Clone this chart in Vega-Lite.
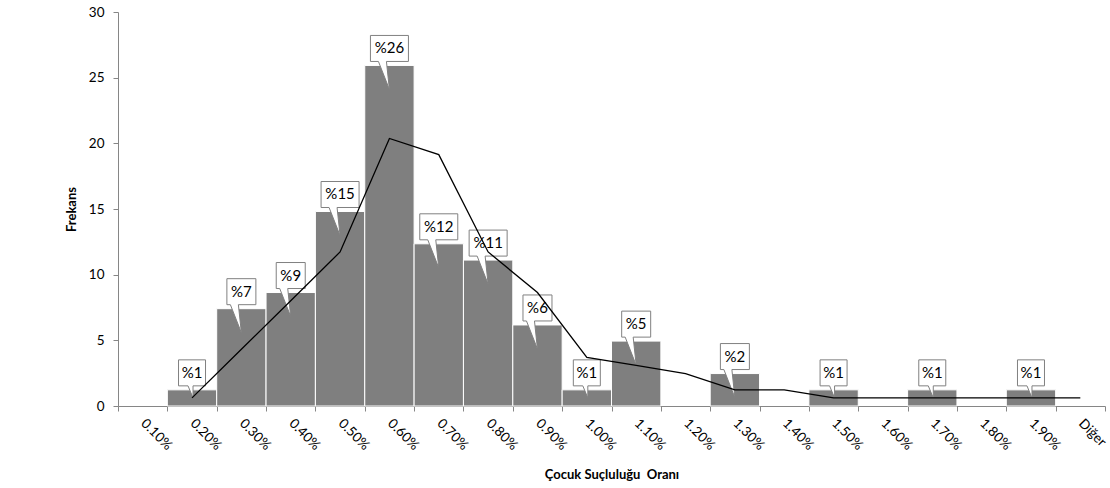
{
  "$schema": "https://vega.github.io/schema/vega-lite/v6.json",
  "width": 987,
  "height": 394,
  "autosize": {"type": "none"},
  "padding": {"left": 118, "top": 12, "right": 5, "bottom": 82},
  "background": "white",
  "config": {
    "view": {"stroke": null},
    "font": "Lato",
    "axis": {
      "grid": false,
      "domainColor": "#868686",
      "tickColor": "#868686",
      "tickSize": 5,
      "labelColor": "#000000",
      "titleColor": "#000000",
      "labelFontSize": 13.5,
      "titleFontSize": 13,
      "titleFontWeight": "bold",
      "labelFont": "Lato",
      "titleFont": "Lato"
    }
  },
  "data": {
    "values": [
      {"cat": "0.10%", "v": 0, "lab": null, "ma": null},
      {"cat": "0.20%", "v": 1.23, "lab": "%1", "ma": 0.62},
      {"cat": "0.30%", "v": 7.41, "lab": "%7", "ma": 4.32},
      {"cat": "0.40%", "v": 8.64, "lab": "%9", "ma": 8.02},
      {"cat": "0.50%", "v": 14.81, "lab": "%15", "ma": 11.73},
      {"cat": "0.60%", "v": 25.93, "lab": "%26", "ma": 20.37},
      {"cat": "0.70%", "v": 12.35, "lab": "%12", "ma": 19.14},
      {"cat": "0.80%", "v": 11.11, "lab": "%11", "ma": 11.73},
      {"cat": "0.90%", "v": 6.17, "lab": "%6", "ma": 8.64},
      {"cat": "1.00%", "v": 1.23, "lab": "%1", "ma": 3.70},
      {"cat": "1.10%", "v": 4.94, "lab": "%5", "ma": 3.09},
      {"cat": "1.20%", "v": 0, "lab": null, "ma": 2.47},
      {"cat": "1.30%", "v": 2.47, "lab": "%2", "ma": 1.23},
      {"cat": "1.40%", "v": 0, "lab": null, "ma": 1.23},
      {"cat": "1.50%", "v": 1.23, "lab": "%1", "ma": 0.62},
      {"cat": "1.60%", "v": 0, "lab": null, "ma": 0.62},
      {"cat": "1.70%", "v": 1.23, "lab": "%1", "ma": 0.62},
      {"cat": "1.80%", "v": 0, "lab": null, "ma": 0.62},
      {"cat": "1.90%", "v": 1.23, "lab": "%1", "ma": 0.62},
      {"cat": "Diğer", "v": 0, "lab": null, "ma": 0.62}
    ]
  },
  "encoding": {
    "x": {
      "field": "cat",
      "type": "ordinal",
      "sort": null,
      "scale": {
        "domain": ["0.10%", "0.20%", "0.30%", "0.40%", "0.50%", "0.60%", "0.70%", "0.80%", "0.90%", "1.00%", "1.10%", "1.20%", "1.30%", "1.40%", "1.50%", "1.60%", "1.70%", "1.80%", "1.90%", "Diğer"],
        "paddingInner": 0,
        "paddingOuter": 0
      },
      "axis": {
        "title": "Çocuk Suçluluğu\u00a0 Oranı",
        "labelAngle": 45,
        "labelAlign": "left",
        "labelBaseline": "middle",
        "labelPadding": 10,
        "labelOverlap": false,
        "tickBand": "extent",
        "titlePadding": 16
      }
    }
  },
  "layer": [
    {
      "transform": [{"filter": "datum.v > 0"}],
      "mark": {"type": "bar", "fill": "#7f7f7f", "stroke": "white", "strokeWidth": 1},
      "encoding": {
        "y": {
          "field": "v",
          "type": "quantitative",
          "scale": {"domain": [0, 30]},
          "axis": {"title": "Frekans", "values": [0, 5, 10, 15, 20, 25, 30], "labelPadding": 9, "titlePadding": 10}
        }
      }
    },
    {
      "transform": [{"filter": "datum.lab != null"}],
      "mark": {"type": "point", "filled": true, "fill": "white", "stroke": "#808080", "strokeWidth": 1, "opacity": 1, "size": 10000},
      "encoding": {
        "y": {
          "field": "v",
          "type": "quantitative",
          "scale": {"domain": [0, 30]},
          "axis": {"title": "Frekans", "values": [0, 5, 10, 15, 20, 25, 30], "labelPadding": 9, "titlePadding": 10}
        },
        "shape": {
          "condition": [
            {"test": "datum.v < 2", "value": "M -0.27 -0.6 L 0.27 -0.6 L 0.27 -0.08 L 0.02 -0.08 L 0.02 0.16 L -0.08 -0.08 L -0.27 -0.08 Z"},
            {"test": "datum.v >= 9.5", "value": "M -0.38 -0.6 L 0.38 -0.6 L 0.38 -0.08 L -0.06 -0.08 L 0 0.48 L -0.22 -0.08 L -0.38 -0.08 Z"}
          ],
          "value": "M -0.29 -0.6 L 0.29 -0.6 L 0.29 -0.08 L -0.06 -0.08 L 0 0.48 L -0.22 -0.08 L -0.29 -0.08 Z"
        }
      }
    },
    {
      "transform": [{"filter": "datum.lab != null"}],
      "mark": {"type": "text", "dy": -17, "fontSize": 15, "baseline": "middle", "align": "center", "color": "#000000", "font": "Lato"},
      "encoding": {
        "y": {
          "field": "v",
          "type": "quantitative",
          "scale": {"domain": [0, 30]},
          "axis": {"title": "Frekans", "values": [0, 5, 10, 15, 20, 25, 30], "labelPadding": 9, "titlePadding": 10}
        },
        "text": {"field": "lab", "type": "nominal"}
      }
    },
    {
      "mark": {"type": "line", "color": "#000000", "strokeWidth": 1.3},
      "encoding": {
        "y": {
          "field": "ma",
          "type": "quantitative",
          "scale": {"domain": [0, 30]},
          "axis": {"title": "Frekans", "values": [0, 5, 10, 15, 20, 25, 30], "labelPadding": 9, "titlePadding": 10}
        }
      }
    }
  ]
}
